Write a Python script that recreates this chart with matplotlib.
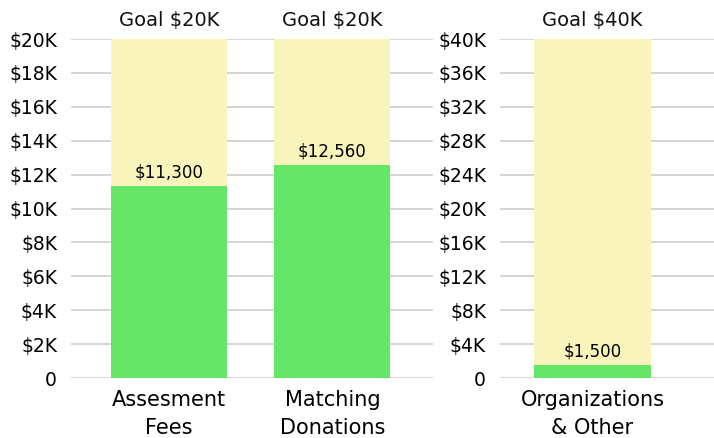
import matplotlib
matplotlib.use('Agg')
import matplotlib.pyplot as plt

# datos
categorias_izq = ['Assesment\nFees', 'Matching\nDonations']
metas_izq      = [20000, 20000]
logrado_izq    = [11300, 12560]
etiquetas_izq  = ['$11,300', '$12,560']
ticks_izq      = [0, 2000, 4000, 6000, 8000, 10000, 12000, 14000, 16000, 18000, 20000]
textos_izq     = ['0', '$2K', '$4K', '$6K', '$8K', '$10K', '$12K', '$14K', '$16K', '$18K', '$20K']

categorias_der = ['Organizations\n& Other']
metas_der      = [40000]
logrado_der    = [1500]
etiquetas_der  = ['$1,500']
ticks_der      = [0, 4000, 8000, 12000, 16000, 20000, 24000, 28000, 32000, 36000, 40000]
textos_der     = ['0', '$4K', '$8K', '$12K', '$16K', '$20K', '$24K', '$28K', '$32K', '$36K', '$40K']

amarillo = '#f8f4bc'
verde    = '#66e666'
gris     = '#d2d2d2'

W, H = 714, 438
fig = plt.figure(figsize=(W/100, H/100), dpi=100)

def panel(x0, x1, xlim, categorias, metas, logrado, etiquetas, ticks, textos):
    ax = fig.add_axes([x0/W, 60/H, (x1-x0)/W, 339/H])
    x = range(len(categorias))
    ax.bar(x, metas, width=0.71, color=amarillo, zorder=2)
    ax.bar(x, logrado, width=0.71, color=verde, zorder=3)
    for i in x:
        ax.text(i, logrado[i] + metas[i]*0.014, etiquetas[i], ha='center', va='bottom',
                fontsize=12, zorder=4)
        ax.text(i, metas[i]*1.028, 'Goal $%dK' % (metas[i]//1000), ha='center', va='bottom',
                fontsize=14, color='#111111', zorder=4)
    ax.set_xlim(xlim)
    ax.set_ylim(0, metas[0])
    ax.set_yticks(ticks)
    ax.set_yticklabels(textos, fontsize=13.5)
    ax.set_xticks(list(x))
    ax.set_xticklabels(categorias, fontsize=15, linespacing=1.5)
    ax.tick_params(length=0, pad=10)
    ax.tick_params(axis='x', pad=9)
    ax.grid(axis='y', color=gris, linewidth=1.3, zorder=1)
    ax.set_axisbelow(True)
    for s in ax.spines.values():
        s.set_visible(False)
    return ax

ax1 = panel(71, 433, (-0.599, 1.615), categorias_izq, metas_izq, logrado_izq, etiquetas_izq, ticks_izq, textos_izq)
ax2 = panel(500, 714, (-0.566, 0.743), categorias_der, metas_der, logrado_der, etiquetas_der, ticks_der, textos_der)

fig.savefig('out.png', dpi=100)
